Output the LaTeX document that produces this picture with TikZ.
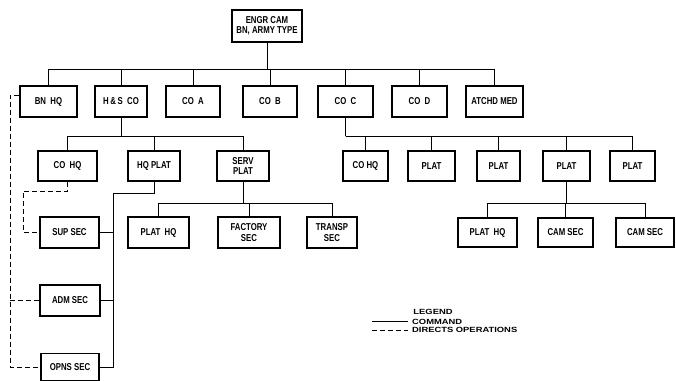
\documentclass[tikz,border=0pt]{standalone}
\usepackage{fontspec}
\setmainfont{Liberation Sans}
\newfontfamily\unitfont[FakeStretch=0.78]{Liberation Sans}
\newfontfamily\keyfont[FakeStretch=1.25]{Liberation Sans}
\usetikzlibrary{calc,positioning}
\tikzset{line width=1.8pt,
  every node/.style={font=\unitfont\bfseries\fontsize{10}{10.5}\selectfont},
  unit/.style={draw,line width=1.5pt,minimum height=31pt,inner sep=1pt,align=center},
  ops/.style={dash pattern=on 5pt off 3pt},
  keytext/.style={font=\keyfont\bfseries\fontsize{7.5}{8}\selectfont}}

\begin{document}
\begin{tikzpicture}[x=1pt,y=-1pt]
\useasboundingbox (0,0) rectangle (676,380);
\node[unit,minimum width=70pt,minimum height=32pt] (engr) at (267,26) {ENGR CAM\\BN, ARMY TYPE};
% battalion level
\node[unit,minimum width=57pt] (bnhq) at (48.5,101.5) {BN\ \ HQ};
\node[unit,minimum width=52pt] (hsco) at (121,101.5) {H\,\&\,S\ \ CO};
\node[unit,minimum width=54pt] (coa) at (193,101.5) {CO\ \ A};
\node[unit,minimum width=54pt] (cob) at (270,101.5) {CO\ \ B};
\node[unit,minimum width=55pt] (coc) at (345.5,101.5) {CO\ \ C};
\node[unit,minimum width=55pt] (cod) at (419.5,101.5) {CO\ \ D};
\node[unit,minimum width=57pt] (med) at (494.5,101.5) {ATCHD MED};
\coordinate (bnbus) at (267,69);
\draw (engr) -- (bnbus);
\foreach \n in {bnhq,hsco,coa,cob,coc,cod,med}{\draw (bnbus) -| (\n.north);}
% H&S company
\node[unit,minimum width=59pt,minimum height=30pt] (cohqa) at (67.5,166) {CO\ \ HQ};
\node[unit,minimum width=52pt,minimum height=30pt] (hqplat) at (154,166) {HQ PLAT};
\node[unit,minimum width=52pt,minimum height=30pt] (servplat) at (243,166) {SERV\\PLAT};
\coordinate (hsbus) at (121,136);
\draw (hsco) -- (hsbus);
\foreach \n in {cohqa,hqplat,servplat}{\draw (hsbus) -| (\n.north);}
\node[unit,minimum width=59pt] (supsec) at (69.5,232.5) {SUP SEC};
\node[unit,minimum width=60pt] (admsec) at (70,300.5) {ADM SEC};
\node[unit,minimum width=58pt,minimum height=27pt] (opnssec) at (70,367) {OPNS SEC};
\node[unit,minimum width=61pt] (plathqa) at (158.5,232.5) {PLAT\ \ HQ};
\node[unit,minimum width=62pt] (factory) at (249,232.5) {FACTORY\\SEC};
\node[unit,minimum width=50pt] (transp) at (332,232.5) {TRANSP\\SEC};
\coordinate (servbus) at (243,203);
\draw (servplat) -- (servbus);
\foreach \n in {plathqa,factory,transp}{\draw (servbus) -| (\n.north);}
\coordinate (hqturn) at (113,193);
\draw (hqplat.south) |- (hqturn) |- (opnssec.east);
\foreach \n in {supsec,admsec}{\draw (\n.east) -- (\n.east -| hqturn);}
% lines of operations
\coordinate (coturn) at (23,191);
\draw[ops] (cohqa.south) |- (coturn) |- (supsec.west);
\coordinate (opsline) at (10,300.5);
\draw[ops] ([yshift=6pt]bnhq.west) -| (opsline) |- (opnssec.west);
\draw[ops] (opsline) -- (admsec.west);
% company C
\node[unit,minimum width=45pt,minimum height=30pt] (cohqb) at (365.5,166) {CO HQ};
\node[unit,minimum width=47pt,minimum height=30pt] (plata) at (431.5,166) {PLAT};
\node[unit,minimum width=43pt,minimum height=30pt] (platb) at (498.5,166) {PLAT};
\node[unit,minimum width=47pt,minimum height=30pt] (platc) at (566.5,166) {PLAT};
\node[unit,minimum width=45pt,minimum height=30pt] (platd) at (632.5,166) {PLAT};
\coordinate (cobus) at (345.5,136);
\draw (coc) -- (cobus);
\foreach \n in {cohqb,plata,platb,platc,platd}{\draw (cobus) -| (\n.north);}
\node[unit,minimum width=59pt,minimum height=29pt] (plathqb) at (487.5,232.5) {PLAT\ \ HQ};
\node[unit,minimum width=55pt,minimum height=29pt] (camseca) at (565.5,232.5) {CAM SEC};
\node[unit,minimum width=58pt,minimum height=29pt] (camsecb) at (645,232.5) {CAM SEC};
\coordinate (platbus) at (566.5,203);
\draw (platc) -- (platbus);
\foreach \n in {plathqb,camseca,camsecb}{\draw (platbus) -| (\n.north);}
% legend
\node[keytext] (legend) at (433,312) {LEGEND};
\node[keytext,anchor=west,inner sep=0pt] (cmdkey) at (412,321.5) {COMMAND};
\node[keytext,anchor=west,inner sep=0pt] (opskey) at (412,330) {DIRECTS OPERATIONS};
\coordinate (cmdend) at (372,321.5);
\coordinate (opsend) at (372,330);
\draw (cmdend) -- ([xshift=-4pt]cmdkey.west);
\draw[ops] (opsend) -- ([xshift=-4pt]opskey.west);
\end{tikzpicture}
\end{document}
